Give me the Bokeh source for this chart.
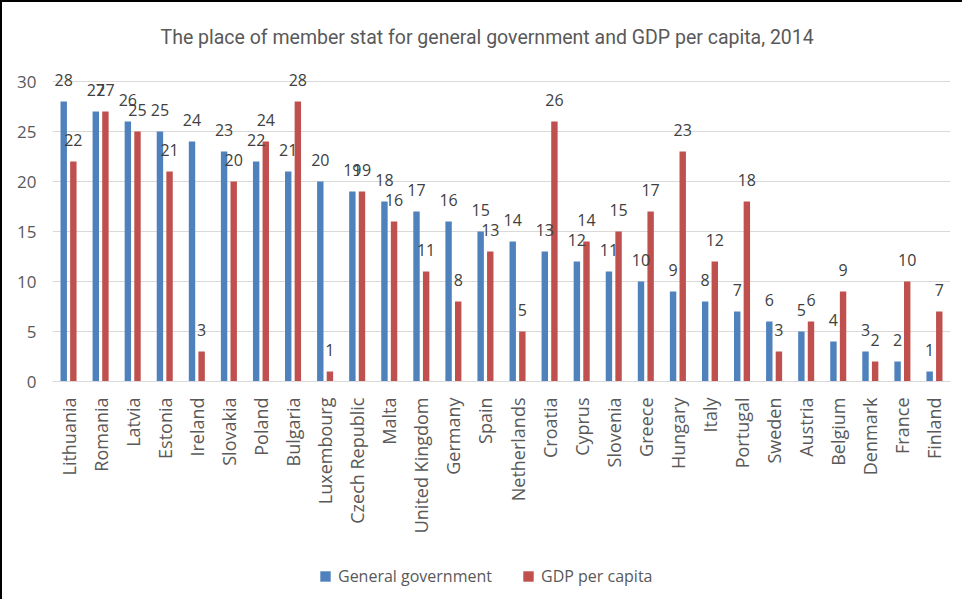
import math
from bokeh.plotting import figure
from bokeh.models import (ColumnDataSource, LabelSet, Legend, LegendItem,
                          FactorRange, Range1d, FixedTicker)
from bokeh.core.properties import value
from bokeh.transform import dodge
from bokeh.embed import file_html
from bokeh.resources import INLINE

countries = ["Lithuania", "Romania", "Latvia", "Estonia", "Ireland", "Slovakia",
             "Poland", "Bulgaria", "Luxembourg", "Czech Republic", "Malta",
             "United Kingdom", "Germany", "Spain", "Netherlands", "Croatia",
             "Cyprus", "Slovenia", "Greece", "Hungary", "Italy", "Portugal",
             "Sweden", "Austria", "Belgium", "Denmark", "France", "Finland"]
general_government = [28, 27, 26, 25, 24, 23, 22, 21, 20, 19, 18, 17, 16, 15,
                      14, 13, 12, 11, 10, 9, 8, 7, 6, 5, 4, 3, 2, 1]
gdp_per_capita = [22, 27, 25, 21, 3, 20, 24, 28, 1, 19, 16, 11, 8, 13,
                  5, 26, 14, 15, 17, 23, 12, 18, 3, 6, 9, 2, 10, 7]
y_ticks = [0, 5, 10, 15, 20, 25, 30]
series_names = ["General government", "GDP per capita"]
title_text = "The place of member stat for general government and GDP per capita, 2014"

src = ColumnDataSource(dict(
    country=countries,
    gg=general_government,
    gdp=gdp_per_capita,
    gg_txt=[str(v) for v in general_government],
    gdp_txt=[str(v) for v in gdp_per_capita],
))

TEXT = "#595959"
FONT = "Open Sans"

# the frame extends below zero to hold the category labels and the legend;
# the x axis is pinned at y = 0
p = figure(x_range=FactorRange(*countries), y_range=Range1d(-21.8, 32.2),
           frame_width=898, frame_height=540,
           output_backend="svg", toolbar_location=None,
           min_border_left=50, min_border_right=12, min_border_top=57,
           min_border_bottom=0)
p.styles = {"border-left": "2px solid #000", "border-top": "2px solid #000"}

p.title.text = title_text
p.title.align = "left"
p.title.offset = 108
p.title.text_font = "Roboto"
p.title.text_font_size = "19.5px"
p.title.text_font_style = "normal"
p.title.text_color = TEXT
p.title.standoff = 21

blue = "#4F81BD"
red = "#C0504D"
p.vbar(x=dodge("country", -0.15, range=p.x_range), top="gg", width=0.2,
       source=src, fill_color=blue, line_color=None)
p.vbar(x=dodge("country", 0.15, range=p.x_range), top="gdp", width=0.2,
       source=src, fill_color=red, line_color=None)

# hidden square-marker renderers on the same data, used only as legend keys
k1 = p.scatter(x=dodge("country", -0.15, range=p.x_range), y="gg", source=src,
               marker="square", fill_color=blue, line_color=None, visible=False)
k2 = p.scatter(x=dodge("country", 0.15, range=p.x_range), y="gdp", source=src,
               marker="square", fill_color=red, line_color=None, visible=False)

for col, off in (("gg", -0.15), ("gdp", 0.15)):
    ls = LabelSet(x=dodge("country", off, range=p.x_range), y=col,
                  text=col + "_txt", source=src, text_align="center",
                  text_baseline="alphabetic", y_offset=16,
                  text_font=value(FONT), text_font_size=value("16px"),
                  text_color="#404040")
    p.add_layout(ls)

p.outline_line_color = None
p.xgrid.grid_line_color = None
p.ygrid.grid_line_color = "#D9D9D9"
p.ygrid.grid_line_width = 1
p.ygrid.ticker = FixedTicker(ticks=y_ticks)

p.yaxis.ticker = FixedTicker(ticks=y_ticks)
p.yaxis.axis_line_color = None
p.yaxis.major_tick_line_color = None
p.yaxis.minor_tick_line_color = None
p.yaxis.major_label_standoff = 10
p.yaxis.major_label_text_font = FONT
p.yaxis.major_label_text_font_size = "17px"
p.yaxis.major_label_text_color = TEXT

p.xaxis.fixed_location = 0
p.xaxis.axis_line_color = "#D9D9D9"
p.xaxis.major_tick_line_color = None
p.xaxis.minor_tick_line_color = None
p.xaxis.major_label_orientation = math.pi / 2
p.xaxis.major_label_standoff = 10
p.xaxis.major_label_text_font = FONT
p.xaxis.major_label_text_font_size = "18px"
p.xaxis.major_label_text_color = TEXT

legend = Legend(items=[LegendItem(label=series_names[0], renderers=[k1]),
                       LegendItem(label=series_names[1], renderers=[k2])],
                orientation="horizontal", location=(260, 10),
                glyph_width=26, glyph_height=26, label_standoff=0, spacing=23,
                label_text_font=FONT, label_text_font_size="16px",
                label_text_color=TEXT, border_line_color=None,
                background_fill_alpha=0, inactive_fill_alpha=0,
                padding=5, margin=0)
p.add_layout(legend, "center")

open("out.html", "w").write(file_html(p, INLINE))
